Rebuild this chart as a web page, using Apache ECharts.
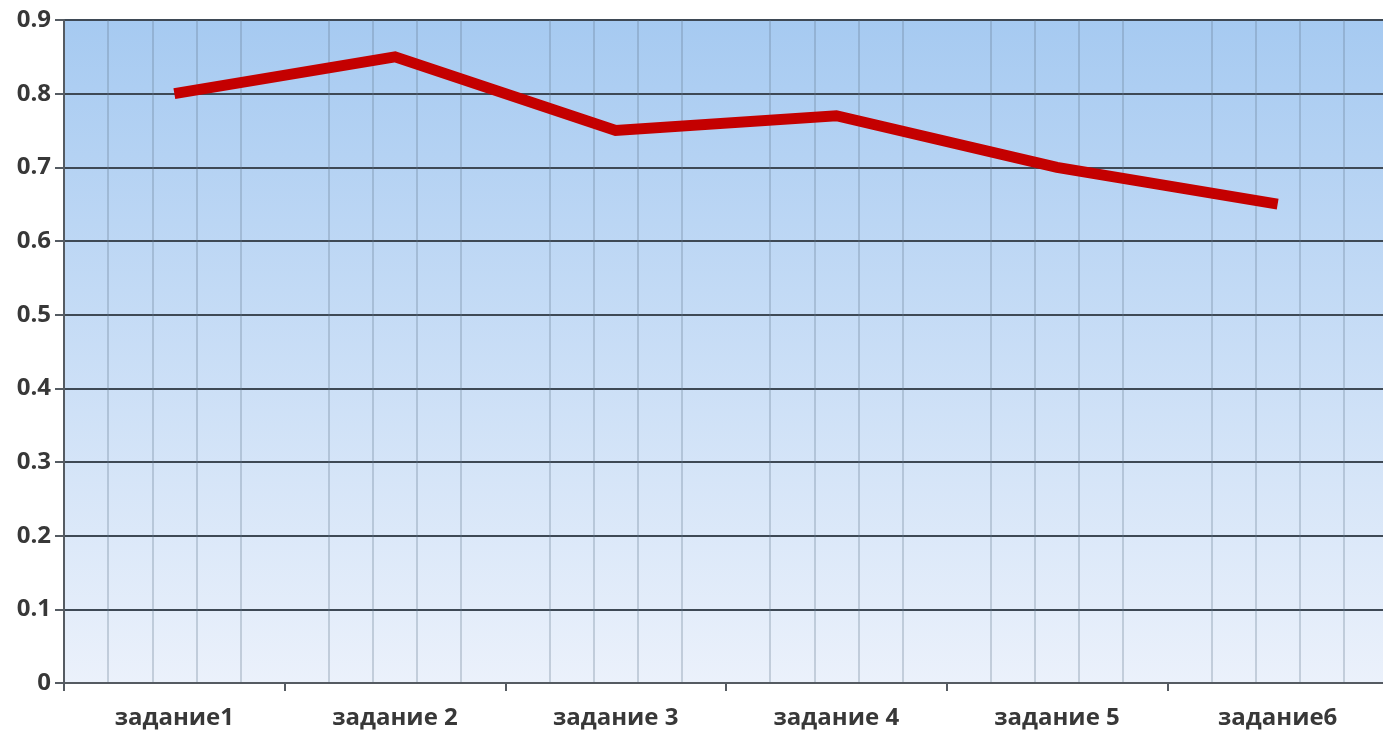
<!DOCTYPE html>
<html>
<head>
<meta charset="utf-8">
<script src="https://cdn.jsdelivr.net/npm/echarts@6/dist/echarts.min.js"></script>
<style>
  html, body { margin: 0; padding: 0; background: #ffffff; overflow: hidden; }
  #chart { width: 1388px; height: 734px; }
</style>
</head>
<body>
<div id="chart"></div>
<script>
// Task names along the horizontal axis
const categories = ['задание1', 'задание 2', 'задание 3', 'задание 4', 'задание 5', 'задание6'];
// Share of correct answers per task
const values = [0.80, 0.85, 0.75, 0.77, 0.70, 0.65];
// Vertical scale
const yMin = 0;
const yMax = 0.9;
const yStep = 0.1;
// Minor vertical lines: five slots per category
const minorPerCategory = 5;

const chart = echarts.init(document.getElementById('chart'), null, { renderer: 'canvas' });

const labelFont = {
  fontFamily: '"Open Sans", "DejaVu Sans", sans-serif',
  fontWeight: 'bold',
  fontSize: 24,
  color: '#383838'
};

const minorColors = ['rgba(0,0,0,0)'];
for (let i = 1; i < minorPerCategory; i++) minorColors.push('rgba(95,115,140,0.38)');

chart.setOption({
  animation: false,
  grid: {
    left: 64,
    right: 0,
    top: 20,
    bottom: 51,
    show: true,
    borderWidth: 0,
    backgroundColor: {
      type: 'linear', x: 0, y: 0, x2: 0, y2: 1,
      colorStops: [
        { offset: 0, color: '#a6caf1' },
        { offset: 1, color: '#ebf1fb' }
      ]
    }
  },
  xAxis: [
    {
      type: 'category',
      data: categories,
      boundaryGap: true,
      position: 'bottom',
      axisLine: { show: true, lineStyle: { color: '#555b62', width: 2 } },
      axisTick: { show: true, length: 8, alignWithLabel: false, lineStyle: { color: '#555b62', width: 2 } },
      axisLabel: Object.assign({ margin: 23, interval: 0 }, labelFont),
      splitLine: { show: false }
    },
    {
      type: 'value',
      min: 0,
      max: categories.length * minorPerCategory,
      interval: 1,
      position: 'top',
      axisLine: { show: false },
      axisTick: { show: false },
      axisLabel: { show: false },
      splitLine: { show: true, lineStyle: { color: minorColors, width: 1.5 } }
    }
  ],
  yAxis: {
    type: 'value',
    min: yMin,
    max: yMax,
    interval: yStep,
    axisLine: { show: true, lineStyle: { color: '#555b62', width: 2 } },
    axisTick: { show: true, length: 9, lineStyle: { color: '#555b62', width: 2 } },
    axisLabel: Object.assign({ margin: 13 }, labelFont),
    splitLine: { show: true, lineStyle: { color: '#3e4955', width: 2 } }
  },
  series: [
    {
      type: 'line',
      xAxisIndex: 0,
      data: values,
      symbol: 'none',
      z: 5,
      lineStyle: { color: '#c40000', width: 11, cap: 'butt', join: 'miter' }
    }
  ]
});
</script>
</body>
</html>
